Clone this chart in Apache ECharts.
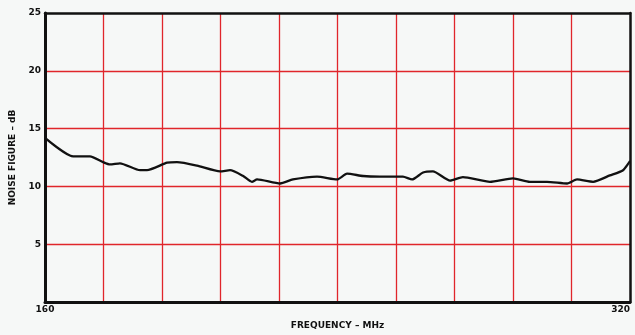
<!DOCTYPE html>
<html>
<head>
<meta charset="utf-8">
<script src="https://cdn.jsdelivr.net/npm/echarts@6/dist/echarts.min.js"></script>
<style>
  html, body { margin: 0; padding: 0; background: #f6f8f7; }
  #chart { width: 635px; height: 335px; }
</style>
</head>
<body>
<div id="chart"></div>
<script>
// frequency (MHz) and noise figure (dB)
var freqs = [160, 167.7, 172.3, 175.9, 177.8, 180.5, 186, 187.9, 193.4, 196.1, 201.6, 207.9, 210.6, 214.2,
  216.6, 218, 224.3, 227.8, 234.4, 239.9, 242.6, 247, 251.6, 257.9, 260.4, 263.4, 266.1, 270.8, 274.3,
  281.7, 288, 292.6, 297.3, 302.8, 305.5, 309.9, 314.5, 318.1, 320];
var noiseDb = [14.2, 12.6, 12.6, 12.1, 11.9, 12.0, 11.4, 11.4, 12.05, 12.1, 11.8, 11.3, 11.4, 10.9,
  10.4, 10.6, 10.25, 10.6, 10.85, 10.6, 11.1, 10.9, 10.85, 10.85, 10.6, 11.2, 11.3, 10.5, 10.8,
  10.4, 10.7, 10.4, 10.4, 10.25, 10.6, 10.4, 10.95, 11.4, 12.2];
var xShown = [160, 320];
var yTicks = [5, 10, 15, 20, 25];

var points = [];
for (var i = 0; i < freqs.length; i++) {
  points.push([freqs[i], noiseDb[i]]);
}

var myChart = echarts.init(document.getElementById("chart"));
var labelFont = { color: "#111", fontSize: 9, fontWeight: "bold", fontFamily: "DejaVu Sans" };

// plain black frame axes for top and right edges
var frameX = {
  type: "value", position: "top", min: 160, max: 320,
  axisLine: { show: true, onZero: false, lineStyle: { color: "#111", width: 2.5 } },
  axisTick: { show: false }, axisLabel: { show: false }, splitLine: { show: false }
};
var frameY = {
  type: "value", position: "right", min: 0, max: 25,
  axisLine: { show: true, onZero: false, lineStyle: { color: "#111", width: 2.5 } },
  axisTick: { show: false }, axisLabel: { show: false }, splitLine: { show: false }
};
var redGrid = { showMinLine: false, showMaxLine: false, lineStyle: { color: "#e0262b", width: 1.3 } };

var option = {
  backgroundColor: "#f6f8f7",
  animation: false,
  grid: { left: 45, right: 5, top: 13, bottom: 30 },
  xAxis: [
    {
      type: "value",
      min: 160, max: 320, interval: 16,
      name: "FREQUENCY – MHz",
      nameLocation: "middle",
      nameGap: 19,
      nameTextStyle: labelFont,
      axisLine: { lineStyle: { color: "#111", width: 3 } },
      axisTick: { show: false },
      splitLine: redGrid,
      axisLabel: Object.assign({
        margin: 3,
        alignMaxLabel: "right",
        formatter: function (v) { return xShown.indexOf(v) >= 0 ? String(v) : ""; }
      }, labelFont)
    },
    frameX
  ],
  yAxis: [
    {
      type: "value",
      min: 0, max: 25, interval: 5,
      name: "NOISE FIGURE – dB",
      nameLocation: "middle",
      nameGap: 28,
      nameRotate: 90,
      nameTextStyle: labelFont,
      axisLine: { lineStyle: { color: "#111", width: 3 } },
      axisTick: { show: false },
      splitLine: redGrid,
      axisLabel: Object.assign({
        margin: 4,
        formatter: function (v) { return yTicks.indexOf(v) >= 0 ? String(v) : ""; }
      }, labelFont)
    },
    frameY
  ],
  series: [
    {
      type: "line",
      data: points,
      showSymbol: false,
      smooth: 0.2,
      lineStyle: { color: "#111", width: 2.3 }
    }
  ]
};

option && myChart.setOption(option);
</script>
</body>
</html>
